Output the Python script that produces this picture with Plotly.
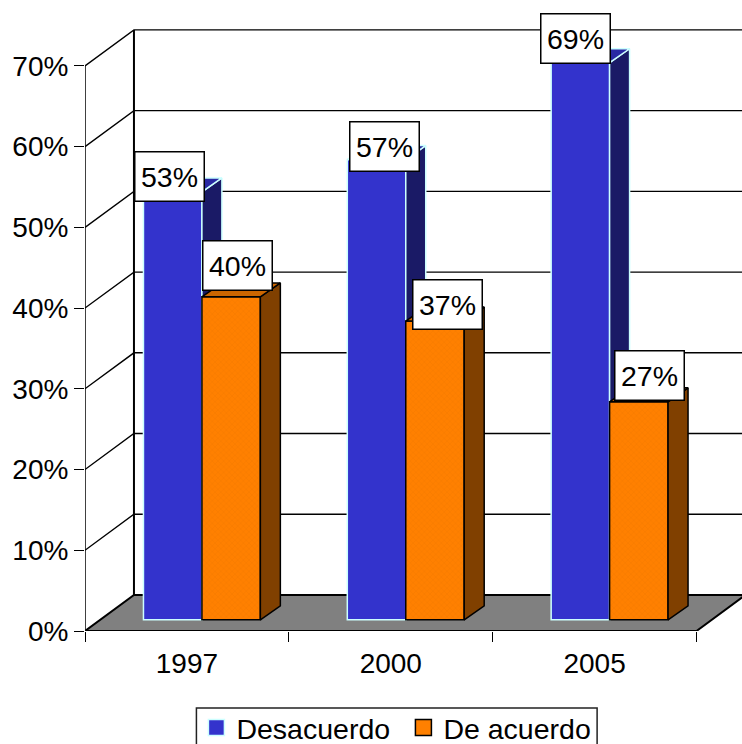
import plotly.graph_objects as go

categories = ["1997", "2000", "2005"]
desacuerdo = [53, 57, 69]
de_acuerdo = [40, 37, 27]
labels_d = ["53%", "57%", "69%"]
labels_a = ["40%", "37%", "27%"]
y_ticks = [0, 10, 20, 30, 40, 50, 60, 70]
y_tick_text = ["0%", "10%", "20%", "30%", "40%", "50%", "60%", "70%"]

# chart geometry, in axis units
PX_X, PX_Y = 204.0, 8.08
WALL_DX, WALL_DY = 49 / PX_X, 36 / PX_Y
BASE = 11.2 / PX_Y
SHIFT = 15 / PX_X
W = 58.5 / PX_X
DEPTH_X, DEPTH_Y = 20 / PX_X, 14 / PX_Y
X_MAX = (742 - 84.5) / PX_X
PLOT_H = 631.5
FIG_H = 770   # the page crops the legend frame at the bottom, as in the reference
Y_MAX = PLOT_H / PX_Y
FONT = "Liberation Sans, Arial, sans-serif"
xs = [i + 0.5 + SHIFT for i in range(len(categories))]

fig = go.Figure()

# walls and floor
shapes = []
BK = "#000000"
shapes.append(dict(type="path", layer="below", xref="x", yref="y", fillcolor="#808080",
                   line=dict(width=0),
                   path=f"M0,0 L{WALL_DX},{WALL_DY} L{3 + WALL_DX},{WALL_DY} L3,0 Z"))
for v in y_ticks[1:]:
    shapes.append(dict(type="path", layer="below", xref="x", yref="y", line=dict(color=BK, width=1.4),
                       path=f"M0,{v} L{WALL_DX},{v + WALL_DY} L{X_MAX},{v + WALL_DY}"))
shapes.append(dict(type="path", layer="below", xref="x", yref="y", line=dict(color=BK, width=2),
                   path=f"M0,0 L{WALL_DX},{WALL_DY} L{X_MAX},{WALL_DY}"))
shapes.append(dict(type="path", layer="below", xref="x", yref="y", line=dict(color=BK, width=2),
                   path=f"M0,0 L3,0 L{3 + WALL_DX},{WALL_DY}"))
shapes.append(dict(type="line", layer="below", xref="x", yref="y", line=dict(color=BK, width=2),
                   x0=WALL_DX, x1=WALL_DX, y0=WALL_DY, y1=70 + WALL_DY))
shapes.append(dict(type="line", layer="below", xref="x", yref="y", line=dict(color=BK, width=1.5),
                   x0=0, x1=0, y0=0, y1=70))
# legend frame, running off the bottom of the page as in the reference
shapes.append(dict(type="rect", layer="above", xref="paper", yref="paper",
                   x0=(196 - 84.5) / 657.5, x1=(597 - 84.5) / 657.5,
                   y0=-(765 - PLOT_H) / PLOT_H, y1=-(708.5 - PLOT_H) / PLOT_H,
                   line=dict(color="#222222", width=1.5), fillcolor="rgba(0,0,0,0)"))


def add_series(name, values, x_left, front, side, top, edge, xa, ya, pattern=None):
    marker = dict(color=front, line=dict(color=edge, width=1.5))
    if pattern:
        marker["pattern"] = pattern
    fig.add_trace(go.Bar(x=x_left, y=values, base=[BASE] * len(values), width=W, offset=0,
                         marker=marker, showlegend=False, xaxis=xa, yaxis=ya, name=name))
    for xl, v in zip(x_left, values):
        yt = BASE + v
        xr = xl + W
        fig.add_trace(go.Scatter(
            x=[xr, xr + DEPTH_X, xr + DEPTH_X, xr, xr],
            y=[yt, yt + DEPTH_Y, BASE + DEPTH_Y, BASE, yt],
            mode="lines", fill="toself", fillcolor=side, line=dict(color=edge, width=1.5),
            showlegend=False, hoverinfo="skip", xaxis=xa, yaxis=ya))
        fig.add_trace(go.Scatter(
            x=[xl, xl + DEPTH_X, xr + DEPTH_X, xr, xl],
            y=[yt, yt + DEPTH_Y, yt + DEPTH_Y, yt, yt],
            mode="lines", fill="toself", fillcolor=top, line=dict(color=edge, width=1.5),
            showlegend=False, hoverinfo="skip", xaxis=xa, yaxis=ya))
    fig.add_trace(go.Scatter(
        x=[None], y=[None], mode="markers", name=name, xaxis=xa, yaxis=ya,
        marker=dict(symbol="square", size=16, color=front, line=dict(color=edge, width=1.5))))


add_series("Desacuerdo", desacuerdo, [x - W for x in xs], "#3333cc", "#1a1a66", "#2929a3",
           "#ccffff", "x", "y")
add_series("De acuerdo", de_acuerdo, list(xs), "#ff8000", "#804000", "#cc6600", "#000000",
           "x2", "y2",
           pattern=dict(shape="x", size=4, solidity=0.25, fgcolor="#e87400", bgcolor="#ff8000"))

# value labels: box offsets from each bar's top centre, in pixels
offs_d = [(-3, 15), (8, 13), (-5, 24)]
offs_a = [(6, 31), (12.5, 16.5), (10.5, 26.5)]
annotations = []
for i in range(3):
    for xc, v, t, off in ((xs[i] - W / 2, desacuerdo[i], labels_d[i], offs_d[i]),
                          (xs[i] + W / 2, de_acuerdo[i], labels_a[i], offs_a[i])):
        annotations.append(dict(x=xc, y=BASE + v, xref="x", yref="y", text=t, showarrow=False,
                                xanchor="center", yanchor="middle", xshift=off[0], yshift=off[1],
                                width=68, height=48, align="center", valign="middle",
                                bgcolor="#ffffff", bordercolor="#000000", borderwidth=1.5, borderpad=0,
                                font=dict(family=FONT, size=28.5, color="#000000")))

fig.update_layout(
    width=742, height=FIG_H, autosize=False,
    margin=dict(l=84.5, r=0, t=0, b=FIG_H - PLOT_H, pad=0),
    paper_bgcolor="#ffffff", plot_bgcolor="#ffffff",
    font=dict(family=FONT, size=28, color="#000000"),
    barmode="overlay",
    shapes=shapes, annotations=annotations,
    xaxis=dict(range=[0, X_MAX], tickmode="array", tickvals=[i + 0.5 for i in range(3)],
               ticktext=categories, showgrid=False, zeroline=False, showline=False,
               ticks="outside", ticklen=7, tickcolor="rgba(0,0,0,0)",
               minor=dict(ticks="outside", ticklen=10, tickcolor="#000000", tickwidth=1.4,
                          tickmode="array", tickvals=[0, 1, 2, 3], showgrid=False),
               tickfont=dict(family=FONT, size=28)),
    yaxis=dict(range=[0, Y_MAX], tickmode="array", tickvals=y_ticks, ticktext=y_tick_text,
               showgrid=False, zeroline=False, showline=False, ticks="outside", ticklen=10,
               tickcolor="#000000", tickwidth=1.4, tickfont=dict(family=FONT, size=28)),
    xaxis2=dict(range=[0, X_MAX], overlaying="x", visible=False),
    yaxis2=dict(range=[0, Y_MAX], overlaying="y", visible=False),
    showlegend=True,
    legend=dict(orientation="h", x=(196 - 84.5) / 657.5, xanchor="left",
                y=-(703 - PLOT_H) / PLOT_H, yanchor="top",
                bgcolor="rgba(0,0,0,0)", borderwidth=0,
                entrywidth=162, entrywidthmode="pixels",
                font=dict(family=FONT, size=28.5, color="#000000")),
)

fig.write_html("out.html", config={"displayModeBar": False},
               post_script="document.body.style.margin='0';document.body.style.overflow='hidden';")
